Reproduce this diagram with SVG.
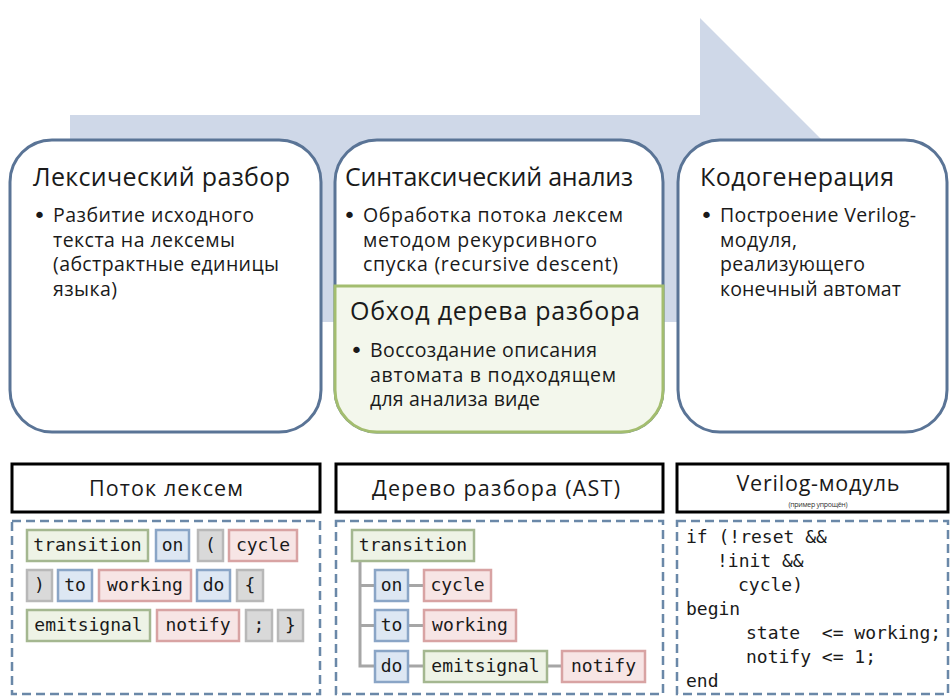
<svg xmlns="http://www.w3.org/2000/svg" width="950" height="696" viewBox="0 0 950 696">
<style>
.stage{fill:#ffffff;stroke:#5A7496;stroke-width:3}
.green{fill:#F3F7EC;stroke:#A3BD6F;stroke-width:3}
.title{font-family:"Open Sans","Liberation Sans",sans-serif;font-size:25px;fill:#1a1a1a}
.body{font-family:"Open Sans","Liberation Sans",sans-serif;font-size:19.5px;fill:#1a1a1a}
.dot{font-family:"DejaVu Sans",sans-serif;font-size:22px;fill:#1a1a1a}
.hdr{fill:#ffffff;stroke:#000000;stroke-width:3}
.hdrt{font-family:"Open Sans","Liberation Sans",sans-serif;font-size:21.5px;fill:#1a1a1a;text-anchor:middle}
.panel{fill:#ffffff;stroke:#6A88A8;stroke-width:2.5;stroke-dasharray:9 5}
.tk{stroke-width:2.5}
.tg{fill:#EEF3E6;stroke:#A4B790}
.tb{fill:#DDE7F3;stroke:#8AA5C6}
.tr{fill:#F7E5E5;stroke:#D8A3A3}
.tx{fill:#D9D9D9;stroke:#B8B8B8}
.mono{font-family:"DejaVu Sans Mono","Liberation Mono",monospace;font-size:18px;fill:#1a1a1a}
.tt{text-anchor:middle}
.pre{white-space:pre}
.conn{stroke:#A6A6A6;stroke-width:3;fill:none}
</style>

<g id="arrow">
  <polygon points="70,115 700,115 700,18 900,218 700,418 700,322 70,322" fill="#CFD8E8"/>
</g>

<g id="lexer">
  <rect class="stage" x="10" y="140" width="311" height="292" rx="42" ry="42"/>
  <text class="title" x="33" y="186" textLength="257">Лексический разбор</text>
  <text class="dot" x="33" y="223">•</text>
  <text class="body" x="53" y="222" textLength="201">Разбитие исходного</text>
  <text class="body" x="53" y="246.5" textLength="182">текста на лексемы</text>
  <text class="body" x="53" y="271" textLength="226">(абстрактные единицы</text>
  <text class="body" x="53" y="295.5" textLength="64">языка)</text>
</g>

<g id="parser">
  <rect class="stage" x="335" y="140" width="328" height="292" rx="42" ry="42"/>
  <text class="title" x="345" y="186" textLength="288">Синтаксический анализ</text>
  <text class="dot" x="343" y="223">•</text>
  <text class="body" x="363" y="222" textLength="260">Обработка потока лексем</text>
  <text class="body" x="363" y="246.5" textLength="234">методом рекурсивного</text>
  <text class="body" x="363" y="271" textLength="255">спуска (recursive descent)</text>
</g>

<g id="traversal">
  <path class="green" d="M335,286 H663 V390 A42,42 0 0 1 621,432 H377 A42,42 0 0 1 335,390 Z"/>
  <text class="title" x="350" y="320" textLength="290">Обход дерева разбора</text>
  <text class="dot" x="350" y="358">•</text>
  <text class="body" x="370" y="357" textLength="227">Воссоздание описания</text>
  <text class="body" x="370" y="381.5" textLength="246">автомата в подходящем</text>
  <text class="body" x="370" y="406" textLength="170">для анализа виде</text>
</g>

<g id="codegen">
  <rect class="stage" x="678" y="140" width="269" height="292" rx="42" ry="42"/>
  <text class="title" x="700" y="186" textLength="194">Кодогенерация</text>
  <text class="dot" x="700" y="223">•</text>
  <text class="body" x="720" y="222" textLength="196">Построение Verilog-</text>
  <text class="body" x="720" y="246.5" textLength="77">модуля,</text>
  <text class="body" x="720" y="271" textLength="145">реализующего</text>
  <text class="body" x="720" y="295.5" textLength="181">конечный автомат</text>
</g>

<g id="tokens-panel">
  <rect class="hdr" x="12" y="464" width="308" height="48"/>
  <text class="hdrt" x="166" y="496" textLength="154">Поток лексем</text>
  <rect class="panel" x="12" y="521" width="308" height="173"/>
  <g class="tk">
    <rect class="tg" x="27" y="530" width="121" height="31"/>
    <rect class="tb" x="156" y="530" width="33" height="31"/>
    <rect class="tx" x="198" y="530" width="25" height="31"/>
    <rect class="tr" x="229" y="530" width="68" height="31"/>
    <rect class="tx" x="27" y="570" width="25" height="31"/>
    <rect class="tb" x="58" y="570" width="34" height="31"/>
    <rect class="tr" x="99" y="570" width="92" height="31"/>
    <rect class="tb" x="197" y="570" width="33" height="31"/>
    <rect class="tx" x="237" y="570" width="26" height="31"/>
    <rect class="tg" x="27" y="610" width="123" height="31"/>
    <rect class="tr" x="157" y="610" width="82" height="31"/>
    <rect class="tx" x="246" y="610" width="26" height="31"/>
    <rect class="tx" x="278" y="610" width="25" height="31"/>
  </g>
  <g class="mono tt">
    <text x="87.5" y="551">transition</text>
    <text x="172.5" y="551">on</text>
    <text x="210.5" y="551">(</text>
    <text x="263" y="551">cycle</text>
    <text x="39.5" y="591">)</text>
    <text x="75" y="591">to</text>
    <text x="145" y="591">working</text>
    <text x="213.5" y="591">do</text>
    <text x="250" y="591">{</text>
    <text x="88.5" y="631">emitsignal</text>
    <text x="198" y="631">notify</text>
    <text x="259" y="631">;</text>
    <text x="290.5" y="631">}</text>
  </g>
</g>

<g id="ast-panel">
  <rect class="hdr" x="336" y="464" width="327" height="48"/>
  <text class="hdrt" x="496" y="496" textLength="248">Дерево разбора (AST)</text>
  <rect class="panel" x="336" y="521" width="327" height="173"/>
</g>

<g id="connectors">
  <path class="conn" d="M360,561 V667.5 M360,585.5 H375 M360,625.5 H375 M360,666 H375 M408,585.5 H424 M408,625.5 H424 M408,666 H424 M547,666 H562"/>
</g>

<g id="ast-nodes">
  <g class="tk">
    <rect class="tg" x="352" y="530" width="122" height="31"/>
    <rect class="tb" x="375" y="570" width="33" height="31"/>
    <rect class="tr" x="424" y="570" width="67" height="31"/>
    <rect class="tb" x="375" y="610" width="33" height="31"/>
    <rect class="tr" x="424" y="610" width="92" height="31"/>
    <rect class="tb" x="375" y="651" width="33" height="31"/>
    <rect class="tg" x="424" y="651" width="123" height="31"/>
    <rect class="tr" x="562" y="651" width="83" height="31"/>
  </g>
  <g class="mono tt">
    <text x="413" y="551">transition</text>
    <text x="391.5" y="591">on</text>
    <text x="457.5" y="591">cycle</text>
    <text x="391.5" y="631">to</text>
    <text x="470" y="631">working</text>
    <text x="391.5" y="672">do</text>
    <text x="485.5" y="672">emitsignal</text>
    <text x="603.5" y="672">notify</text>
  </g>
</g>

<g id="verilog-panel">
  <rect class="hdr" x="677" y="464" width="271" height="48"/>
  <text class="hdrt" x="818" y="491" textLength="163">Verilog-модуль</text>
  <text x="818" y="507" font-family="Open Sans, Liberation Sans, sans-serif" font-size="7" fill="#333" text-anchor="middle" textLength="59">(пример упрощён)</text>
  <rect class="panel" x="677" y="521" width="271" height="173"/>
  <g class="mono">
    <text x="686" y="543">if (!reset &amp;&amp;</text>
    <text x="717" y="567">!init &amp;&amp;</text>
    <text x="738" y="591">cycle)</text>
    <text x="686" y="615">begin</text>
    <text class="pre" x="746" y="639">state  &lt;= working;</text>
    <text x="746" y="663">notify &lt;= 1;</text>
    <text x="686" y="687">end</text>
  </g>
</g>
</svg>
